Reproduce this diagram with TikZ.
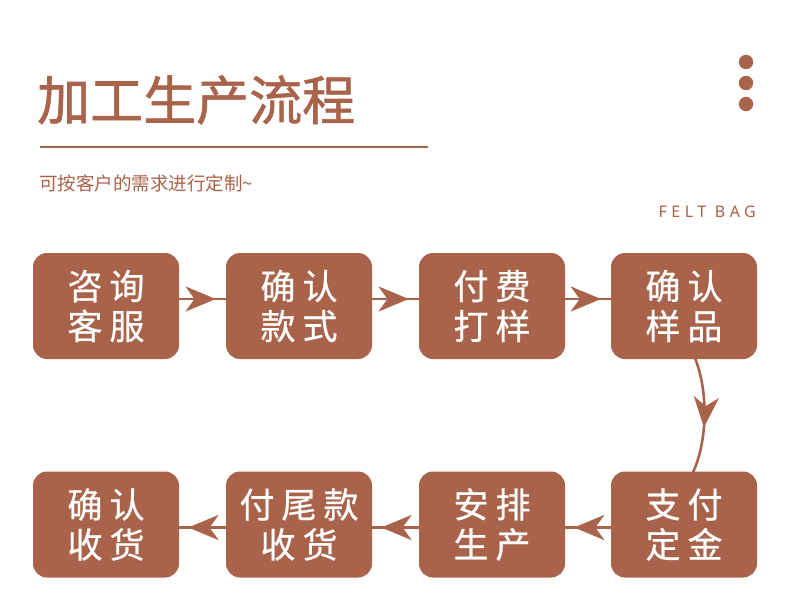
\documentclass[tikz,border=0pt]{standalone}
\usepackage{fontspec}
\setmainfont{Noto Sans}
\newfontfamily\cjk{Noto Sans CJK SC}
\newfontfamily\cjkmed[FakeBold=1.2]{Noto Sans CJK SC}
\newfontfamily\cjkbox[FakeBold=0.6]{Noto Sans CJK SC}
\newfontfamily\latinsans[LetterSpace=28]{Noto Sans}
\usetikzlibrary{arrows.meta,decorations.markings}
\definecolor{brown}{HTML}{A9634A}
\newcommand{\gapch}{\hspace{7pt}}
\tikzset{
  stepbox/.style={draw=none,fill=brown,rounded corners=14pt,minimum width=146pt,minimum height=106pt,
    text=white,align=center,font=\cjkbox\fontsize{35}{40}\selectfont,inner sep=0pt},
  flow/.style={draw=brown,line width=2.6pt,
    postaction={decorate},
    decoration={markings,mark=at position #1 with {\arrow[brown,line width=0.1pt]{Stealth[length=30pt,width=25pt,inset=9pt]}}}},
}
\begin{document}
\begin{tikzpicture}[x=1pt,y=-1pt]
\useasboundingbox (0,0) rectangle (790,606);
\fill[white] (0,0) rectangle (790,606);
% header
\node[anchor=west,text=brown,font=\cjkmed\fontsize{53}{56}\selectfont,inner sep=0pt] (title) at (37,100) {加工生产流程};
\draw[brown,line width=2pt] (40,147) coordinate (r1) -- (428,147) coordinate (r2);
\node[anchor=west,text=brown,font=\cjk\fontsize{18.5}{20}\selectfont,inner sep=0pt] (sub) at (39,183) {可按客户的需求进行定制\textasciitilde};
\node[anchor=east,text=brown,font=\latinsans\fontsize{16}{18}\selectfont,inner sep=0pt] (felt) at (756,212) {FELT BAG};
\foreach \yy/\nm in {62/d1,83/d2,104/d3} \fill[brown] (746,\yy) circle (7.2pt);
% boxes
\node[stepbox] (b1) at (106,306) {咨\gapch 询\\客\gapch 服};
\node[stepbox] (b2) at (299,306) {确\gapch 认\\款\gapch 式};
\node[stepbox] (b3) at (492,306) {付\gapch 费\\打\gapch 样};
\node[stepbox] (b4) at (684,306) {确\gapch 认\\样\gapch 品};
\node[stepbox] (b5) at (684,524.5) {支\gapch 付\\定\gapch 金};
\node[stepbox] (b6) at (492,524.5) {安\gapch 排\\生\gapch 产};
\node[stepbox] (b7) at (299,524.5) {付\gapch 尾\gapch 款\\收\gapch 货};
\node[stepbox] (b8) at (106,524.5) {确\gapch 认\\收\gapch 货};
% connectors
\draw[flow=0.78] ([yshift=7pt]b1.east) -- ([yshift=7pt]b2.west);
\draw[flow=0.78] ([yshift=7pt]b2.east) -- ([yshift=7pt]b3.west);
\draw[flow=0.78] ([yshift=7pt]b3.east) -- ([yshift=7pt]b4.west);
\draw[flow=0.6] ([xshift=11pt,yshift=1pt]b4.south) .. controls (708,390) and (708,440) .. ([xshift=9pt,yshift=-1pt]b5.north);
\draw[flow=0.8] ([yshift=-3pt]b5.west) -- ([yshift=-3pt]b6.east);
\draw[flow=0.8] ([yshift=-3pt]b6.west) -- ([yshift=-3pt]b7.east);
\draw[flow=0.8] ([yshift=-3pt]b7.west) -- ([yshift=-3pt]b8.east);
\end{tikzpicture}
\end{document}
